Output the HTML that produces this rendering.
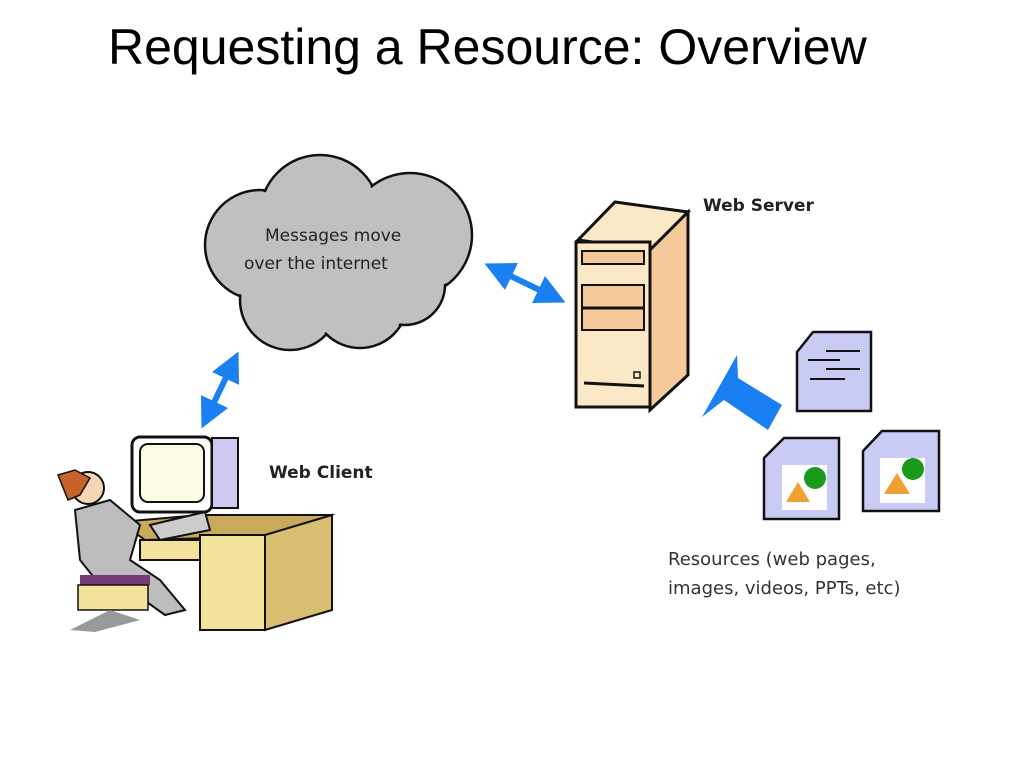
<!DOCTYPE html>
<html><head><style>
body{margin:0;background:#fff;width:1024px;height:768px;overflow:hidden;position:relative;font-family:"Liberation Sans",sans-serif}
.t{position:absolute;font-family:"DejaVu Sans","Liberation Sans",sans-serif;color:#222}
</style></head><body>
<div style="position:absolute;left:108px;top:18px;font-size:50px;color:#000;white-space:nowrap">Requesting a Resource: Overview</div>
<svg width="1024" height="768" style="position:absolute;left:0;top:0">
<defs><marker id="a" viewBox="0 0 10 10" refX="5" refY="5" markerWidth="5" markerHeight="5" orient="auto-start-reverse"><path d="M0,0L10,5L0,10z" fill="#1a7ff0"/></marker></defs>
<g fill="#c0c0c0" stroke="#111" stroke-width="2.5">
<circle cx="260" cy="245" r="55"/><circle cx="320" cy="215" r="60"/><circle cx="410" cy="235" r="62"/>
<circle cx="290" cy="300" r="50"/><circle cx="360" cy="300" r="48"/><circle cx="405" cy="285" r="40"/>
</g>
<g fill="#c0c0c0"><circle cx="260" cy="245" r="53"/><circle cx="320" cy="215" r="58"/><circle cx="410" cy="235" r="60"/>
<circle cx="290" cy="300" r="48"/><circle cx="360" cy="300" r="46"/><circle cx="405" cy="285" r="38"/><rect x="260" y="220" width="170" height="80"/></g>
<line x1="498" y1="270" x2="552" y2="296" stroke="#1a7ff0" stroke-width="6" marker-start="url(#a)" marker-end="url(#a)"/>
<line x1="232" y1="365" x2="208" y2="415" stroke="#1a7ff0" stroke-width="6" marker-start="url(#a)" marker-end="url(#a)"/>
<polygon points="737,355 702,417 724,400 768,430 782,405 738,378" fill="#1a7ff0"/>
<polygon points="578,240 615,202 688,212 650,250" fill="#fbe8c6" stroke="#111" stroke-width="3"/>
<polygon points="650,250 688,212 688,375 650,410" fill="#f5c99a" stroke="#111" stroke-width="3"/>
<rect x="576" y="242" width="74" height="165" fill="#fbe8c6" stroke="#111" stroke-width="3"/>
<rect x="582" y="251" width="62" height="13" fill="#f5c99a" stroke="#111" stroke-width="2"/>
<rect x="582" y="285" width="62" height="45" fill="#f5c99a" stroke="#111" stroke-width="2"/>
<line x1="582" y1="308" x2="644" y2="308" stroke="#111" stroke-width="3"/>
<line x1="584" y1="383" x2="644" y2="386" stroke="#111" stroke-width="3"/>
<rect x="634" y="372" width="6" height="6" fill="none" stroke="#111" stroke-width="1.5"/>
<g stroke="#111" stroke-width="2.5" fill="#c9cbf5">
<polygon points="797,352 813,332 871,332 871,411 797,411"/>
<polygon points="764,458 784,438 839,438 839,519 764,519"/>
<polygon points="863,451 882,431 939,431 939,511 863,511"/>
</g>
<g stroke="#111" stroke-width="2"><line x1="826" y1="351" x2="860" y2="351"/><line x1="808" y1="360" x2="840" y2="360"/><line x1="826" y1="369" x2="860" y2="369"/><line x1="810" y1="379" x2="845" y2="379"/></g>
<rect x="782" y="465" width="45" height="45" fill="#fff"/><rect x="880" y="458" width="45" height="45" fill="#fff"/>
<circle cx="815" cy="478" r="11" fill="#1a9a1a"/><polygon points="786,502 798,482 810,502" fill="#f0a030"/>
<circle cx="913" cy="469" r="11" fill="#1a9a1a"/><polygon points="884,494 897,473 910,494" fill="#f0a030"/>
<polygon points="120,522 200,515 332,515 305,535 145,540" fill="#c9a95a" stroke="#111" stroke-width="2"/>
<rect x="200" y="535" width="65" height="95" fill="#f2e29a" stroke="#111" stroke-width="2"/>
<polygon points="265,535 332,515 332,610 265,630" fill="#d8be70" stroke="#111" stroke-width="2"/>
<rect x="140" y="540" width="60" height="20" fill="#f2e29a" stroke="#111" stroke-width="2"/>
<rect x="132" y="437" width="80" height="75" rx="8" fill="#fff" stroke="#111" stroke-width="3"/>
<rect x="140" y="444" width="64" height="58" rx="8" fill="#fcfbe4" stroke="#111" stroke-width="2"/>
<rect x="212" y="438" width="26" height="70" fill="#cfc8f0" stroke="#111" stroke-width="2"/>
<polygon points="150,525 205,512 210,530 160,540" fill="#ccc" stroke="#111" stroke-width="2"/>
<polygon points="75,510 110,500 140,525 130,560 160,580 185,610 165,615 130,590 100,585 80,560" fill="#bdbdbd" stroke="#111" stroke-width="2"/>
<circle cx="88" cy="488" r="16" fill="#f6d7b5" stroke="#111" stroke-width="2"/>
<path d="M58,475 L75,470 L90,478 L80,495 L68,500 Z" fill="#c8622a" stroke="#111" stroke-width="1.5"/>
<rect x="80" y="575" width="70" height="10" fill="#7a3a7a"/>
<rect x="78" y="585" width="70" height="25" fill="#f2e29a" stroke="#111" stroke-width="1.5"/>
<polygon points="70,630 110,610 140,620 95,632" fill="#999"/>
</svg>
<div class="t" style="left:265px;top:226px;font-size:17px">Messages move</div>
<div class="t" style="left:244px;top:254px;font-size:17px">over the internet</div>
<div class="t" style="left:703px;top:196px;font-size:17px;font-weight:bold">Web Server</div>
<div class="t" style="left:269px;top:463px;font-size:17px;font-weight:bold">Web Client</div>
<div class="t" style="left:668px;top:545px;font-size:18px;line-height:29px;color:#333">Resources (web pages,<br>images, videos, PPTs, etc)</div>
</body></html>
